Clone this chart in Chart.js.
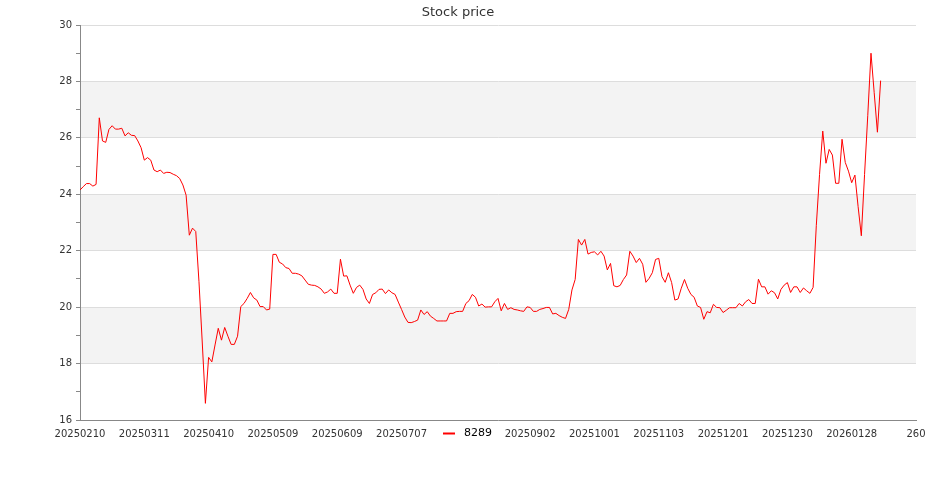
<!DOCTYPE html>
<html lang="en">
<head>
    <meta charset="UTF-8">
    <title>Stock price</title>
    <script src="https://cdn.jsdelivr.net/npm/chart.js"></script>
    <style>
        body {
            margin: 0;
            padding: 0;
            background: #ffffff;
        }
        #wrap {
            width: 935px;
            height: 500px;
        }
    </style>
</head>
<body>
    <div id="wrap">
        <canvas id="priceChart" width="935" height="500"></canvas>
    </div>

    <script>
        // Series name and closing prices, one per trading day
        const seriesName = '8289';
        const prices = [
            24.15, 24.27, 24.38, 24.38, 24.29, 24.35, 26.71, 25.89, 25.84, 26.30,
            26.43, 26.31, 26.31, 26.34, 26.07, 26.18, 26.09, 26.08, 25.89, 25.65,
            25.21, 25.30, 25.21, 24.86, 24.80, 24.86, 24.74, 24.78, 24.77, 24.71,
            24.66, 24.56, 24.33, 23.97, 22.55, 22.80, 22.68, 20.90, 18.80, 16.59,
            18.22, 18.06, 18.66, 19.25, 18.83, 19.28, 18.97, 18.68, 18.68, 18.97,
            20.02, 20.13, 20.31, 20.52, 20.33, 20.25, 20.02, 20.02, 19.90, 19.93,
            21.87, 21.87, 21.59, 21.53, 21.40, 21.37, 21.20, 21.20, 21.17, 21.11,
            20.96, 20.81, 20.78, 20.77, 20.72, 20.64, 20.49, 20.54, 20.64, 20.49,
            20.49, 21.70, 21.10, 21.11, 20.78, 20.49, 20.70, 20.78, 20.63, 20.29,
            20.13, 20.45, 20.51, 20.63, 20.64, 20.48, 20.61, 20.51, 20.45, 20.18,
            19.92, 19.65, 19.46, 19.45, 19.49, 19.54, 19.90, 19.74, 19.84, 19.68,
            19.60, 19.51, 19.51, 19.51, 19.51, 19.78, 19.78, 19.84, 19.85, 19.85,
            20.13, 20.23, 20.45, 20.35, 20.04, 20.11, 20.00, 20.01, 20.01, 20.19,
            20.31, 19.87, 20.13, 19.92, 19.98, 19.92, 19.90, 19.87, 19.85, 20.01,
            19.99, 19.85, 19.85, 19.92, 19.95, 19.99, 19.99, 19.76, 19.78, 19.70,
            19.64, 19.60, 19.92, 20.61, 20.98, 22.40, 22.20, 22.40, 21.88, 21.94,
            21.96, 21.85, 21.98, 21.81, 21.32, 21.55, 20.76, 20.72, 20.77, 20.98,
            21.14, 21.98, 21.81, 21.58, 21.73, 21.52, 20.88, 21.02, 21.22, 21.69,
            21.73, 21.08, 20.88, 21.22, 20.87, 20.25, 20.29, 20.67, 20.98, 20.67,
            20.45, 20.35, 20.04, 19.99, 19.57, 19.84, 19.80, 20.10, 19.99, 19.98,
            19.81, 19.89, 19.98, 19.98, 19.98, 20.13, 20.04, 20.19, 20.27, 20.13,
            20.13, 20.99, 20.72, 20.72, 20.46, 20.58, 20.51, 20.29, 20.63, 20.78,
            20.87, 20.52, 20.72, 20.72, 20.52, 20.68, 20.58, 20.49, 20.70, 22.90,
            24.70, 26.24, 25.10, 25.59, 25.39, 24.39, 24.39, 25.95, 25.13, 24.82,
            24.41, 24.68, 23.56, 22.53, 24.70, 26.80, 29.00, 27.60, 26.20, 28.03
        ];

        // Dates shown under every 20th trading day
        const tickDates = [
            '20250210', '20250311', '20250410', '20250509', '20250609', '20250707', '20250804',
            '20250902', '20251001', '20251103', '20251201', '20251230', '20260128'
        ];
        const tickStep = 20;

        const yMin = 16;
        const yMax = 30;

        const points = prices.map((p, i) => ({ x: i, y: p }));

        // grey bands behind every other 2-unit interval
        const bandPlugin = {
            id: 'bands',
            beforeDraw(chart) {
                const { ctx, chartArea } = chart;
                const y = chart.scales.y;
                ctx.save();
                ctx.fillStyle = '#f3f3f3';
                for (let v = yMin + 2; v < yMax; v += 4) {
                    const top = y.getPixelForValue(v + 2);
                    const bottom = y.getPixelForValue(v);
                    ctx.fillRect(chartArea.left, top, chartArea.right - chartArea.left, bottom - top);
                }
                ctx.restore();
            }
        };

        // legend drawn in the tick label row, centred, over the labels
        const legendPlugin = {
            id: 'rowLegend',
            afterDraw(chart) {
                const ds = chart.data.datasets[0];
                const ctx = chart.ctx;
                ctx.save();
                ctx.font = '11px "DejaVu Sans"';
                const tw = ctx.measureText(ds.label).width;
                const w = 12 + 9 + tw;
                const x0 = Math.round(chart.width / 2 - w / 2);
                const yc = chart.chartArea.bottom + 13.5;
                ctx.fillStyle = '#ffffff';
                ctx.fillRect(x0 - 8, yc - 8, w + 16, 16);
                ctx.strokeStyle = ds.borderColor;
                ctx.lineWidth = 2;
                ctx.beginPath();
                ctx.moveTo(x0, yc);
                ctx.lineTo(x0 + 12, yc);
                ctx.stroke();
                ctx.fillStyle = '#000000';
                ctx.textBaseline = 'middle';
                ctx.fillText(ds.label, x0 + 21, yc);
                ctx.restore();
            }
        };

        new Chart(document.getElementById('priceChart'), {
            type: 'line',
            data: {
                datasets: [{
                    label: seriesName,
                    data: points,
                    borderColor: '#ff0000',
                    borderWidth: 1,
                    pointRadius: 0,
                    tension: 0,
                    fill: false
                }]
            },
            options: {
                responsive: false,
                animation: false,
                layout: {
                    padding: { left: 0, right: 19, top: 0, bottom: 0 }
                },
                plugins: {
                    legend: { display: false },
                    tooltip: { enabled: false },
                    title: {
                        display: true,
                        text: 'Stock price',
                        color: '#333333',
                        font: { family: 'DejaVu Sans', size: 13, weight: 'normal' },
                        padding: { top: 5, bottom: 4.4 }
                    }
                },
                scales: {
                    x: {
                        type: 'linear',
                        min: 0,
                        max: tickStep * tickDates.length,
                        afterFit(s) { s.height = 80; },
                        grid: { display: false, drawTicks: false },
                        border: { display: true, color: '#888888' },
                        ticks: {
                            stepSize: tickStep,
                            autoSkip: false,
                            maxRotation: 0,
                            padding: 8,
                            color: '#333333',
                            font: { family: 'DejaVu Sans', size: 10 },
                            callback: v => tickDates[v / tickStep] ?? v
                        }
                    },
                    y: {
                        min: yMin,
                        max: yMax,
                        afterFit(s) { s.width = 80; },
                        grid: {
                            color: c => c.tick && c.tick.value % 2 === 0 ? '#dddddd' : 'rgba(0,0,0,0)',
                            tickColor: '#888888',
                            tickLength: 4
                        },
                        border: { display: true, color: '#888888' },
                        ticks: {
                            stepSize: 1,
                            padding: 4,
                            color: '#333333',
                            font: { family: 'DejaVu Sans', size: 10 },
                            callback: v => v % 2 === 0 ? v : ''
                        }
                    }
                }
            },
            plugins: [bandPlugin, legendPlugin]
        });
    </script>
</body>
</html>
